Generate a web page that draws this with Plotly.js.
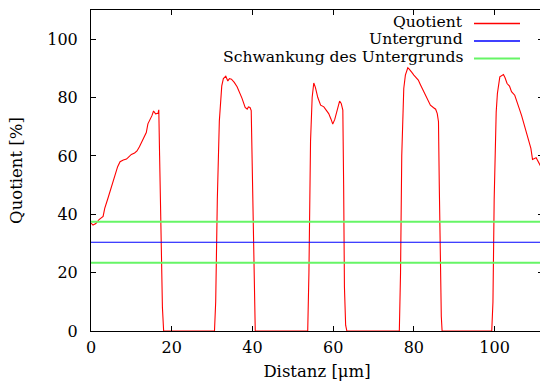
<!DOCTYPE html>
<html>
<head>
<meta charset="utf-8">
<script src="https://cdn.plot.ly/plotly-3.0.1.min.js"></script>
<style>
html,body{margin:0;padding:0;overflow:hidden;background:#fff;width:540px;height:385px;}
#chart{width:543px;height:385px;}
</style>
</head>
<body>
<div id="chart"></div>
<script>
// Distance in µm
var distanz = [
  0.0,0.5,1.2,2.0,3.0,3.4,4.2,5.0,5.8,6.6,7.2,8.0,8.8,9.3,10.0,10.8,11.4,12.0,12.8,13.7,14.1,14.7,15.1,15.5,16.0,16.6,16.8,17.0,17.3,17.7,18.0,
  30.6,30.9,31.3,31.8,32.1,32.4,32.8,33.4,33.9,34.3,34.8,35.5,36.2,36.8,37.4,38.2,38.7,39.0,39.4,39.7,39.9,40.2,40.5,40.7,
  53.7,54.0,54.4,54.8,55.2,55.6,56.2,56.9,57.7,58.4,58.9,59.5,59.9,60.4,60.8,61.3,61.6,62.0,62.4,62.6,62.8,63.1,63.4,
  76.4,76.7,77.0,77.3,77.5,77.9,78.5,78.8,79.1,79.5,80.0,80.5,81.1,81.6,82.1,82.7,83.3,84.1,84.9,85.4,85.8,86.1,86.3,86.6,86.8,87.0,
  99.3,99.6,99.9,100.4,100.7,101.3,101.8,102.2,102.6,103.1,103.7,104.2,105.0,105.5,106.1,106.7,107.3,108.1,109.0,109.4,109.9,110.3,110.6,111.0,111.4,112.0
];
// Quotient in %
var quotient = [
  37.0,36.3,36.8,38.2,39.3,42.0,45.5,49.0,52.5,56.3,58.0,58.6,58.9,59.5,60.5,61.0,61.7,63.1,65.5,68.0,71.0,72.5,73.8,75.4,74.4,74.6,75.8,60,30,8,0,
  0,10,45,72,80,84,86.5,87.3,85.7,86.5,86.3,85.2,83.7,82.0,79.8,76.6,76.0,76.8,76.6,75.5,60,25,5,0,
  0,20,65,80,85.0,83.5,80,77.4,76.8,75.5,74.5,72.5,70.9,72.5,74.5,77.5,78.8,78.0,75.7,50,15,2,0,
  0,20,60,78,83.1,87.7,90.2,89.8,89.4,88.6,87.7,86.8,86.0,84.5,83.1,81.5,80.2,77.4,76.5,76.0,74.5,71.7,50,20,5,0,
  0,10,45,75,81.4,87.1,87.5,87.9,86.8,84.8,83.9,82.0,80.8,79.0,76.3,73.8,71.1,67.1,62.6,58.8,59.1,59.4,58.6,57.5,56.5,55.5
];
var untergrund = 30.4;      // background level in %
var schwankung = 7.0;       // fluctuation of background in %
var xSpan = [0, 112];
var xTicks = [0, 20, 40, 60, 80, 100];
var yTicks = [0, 20, 40, 60, 80, 100];
var legendLabels = ['Quotient', 'Untergrund', 'Schwankung des Untergrunds'];

var font = '"DejaVu Serif", serif';
var green = 'rgb(102,245,102)';

var traces = [
  {x: distanz, y: quotient, type: 'scatter', mode: 'lines', line: {color: '#ff0000', width: 1.1}, name: legendLabels[0]},
  {x: xSpan, y: [untergrund, untergrund], type: 'scatter', mode: 'lines', line: {color: '#0000ff', width: 1.1}, name: legendLabels[1]},
  {x: xSpan, y: [untergrund + schwankung, untergrund + schwankung], type: 'scatter', mode: 'lines', line: {color: green, width: 2}, name: legendLabels[2]},
  {x: xSpan, y: [untergrund - schwankung, untergrund - schwankung], type: 'scatter', mode: 'lines', line: {color: green, width: 2}, showlegend: false}
];

function px2x(p){ return (p - 91) / 452; }
function py2y(p){ return (331 - p) / 321; }
var legY = [23.5, 41, 58.5];
var legColors = ['#ff0000', '#0000ff', green];
var legWidths = [1.3, 1.3, 2];
var annotations = [], shapes = [];
for (var k = 0; k < 3; k++) {
  annotations.push({xref: 'paper', yref: 'paper', x: px2x(464), y: py2y(legY[k] - 1.5), xanchor: 'right', yanchor: 'middle',
    text: legendLabels[k], showarrow: false, font: {family: font, size: 15.6, color: '#000'}, borderpad: 0});
  shapes.push({type: 'line', xref: 'paper', yref: 'paper', x0: px2x(474), x1: px2x(520), y0: py2y(legY[k]), y1: py2y(legY[k]),
    line: {color: legColors[k], width: legWidths[k]}});
}

var layout = {
  width: 543, height: 385,
  margin: {l: 91, r: 0, t: 10, b: 54},
  paper_bgcolor: '#fff', plot_bgcolor: '#fff',
  showlegend: false,
  font: {family: font, size: 16, color: '#000'},
  xaxis: {
    range: xSpan, tickvals: xTicks, ticks: 'inside', ticklen: 5, tickcolor: '#000', tickwidth: 1,
    showline: true, linecolor: '#000', linewidth: 1, mirror: 'ticks', showgrid: false, zeroline: false,
    ticklabelstandoff: 2,
    tickfont: {family: font, size: 16},
    title: {text: 'Distanz [μm]', font: {family: font, size: 16.5}, standoff: 9}
  },
  yaxis: {
    range: [0, 110], tickvals: yTicks, ticks: 'inside', ticklen: 5, tickcolor: '#000', tickwidth: 1,
    showline: true, linecolor: '#000', linewidth: 1, mirror: 'ticks', showgrid: false, zeroline: false,
    ticklabelstandoff: 9,
    tickfont: {family: font, size: 16},
    title: {text: 'Quotient [%]', font: {family: font, size: 16.5}, standoff: 20}
  },
  annotations: annotations,
  shapes: shapes
};

Plotly.newPlot('chart', traces, layout, {staticPlot: true, displayModeBar: false});
</script>
</body>
</html>
